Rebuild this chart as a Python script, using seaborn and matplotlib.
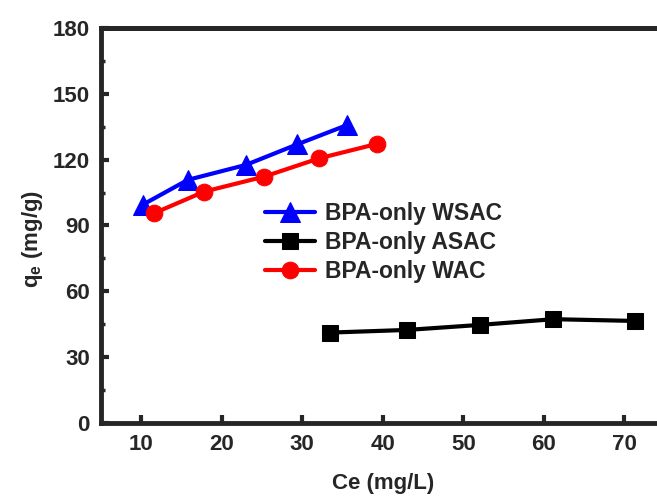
import pandas as pd
import matplotlib
matplotlib.use("Agg")
import matplotlib.pyplot as plt
import seaborn as sns
from matplotlib.ticker import MultipleLocator

# --- Data ---
ce_wsac = [10.2, 15.8, 23.0, 29.4, 35.6]
qe_wsac = [99.5, 110.8, 117.6, 127.0, 135.8]

ce_asac = [33.5, 43.0, 52.1, 61.2, 71.3]
qe_asac = [41.2, 42.4, 44.7, 47.3, 46.5]

ce_wac = [11.6, 17.8, 25.3, 32.1, 39.3]
qe_wac = [95.6, 105.4, 112.3, 120.6, 127.2]

labels = ["BPA-only WSAC", "BPA-only ASAC", "BPA-only WAC"]


def make_plot():
    sns.set_style("ticks")
    plt.rcParams["font.family"] = ["Liberation Sans", "DejaVu Sans"]
    plt.rcParams["font.weight"] = "bold"
    plt.rcParams["mathtext.fontset"] = "custom"
    plt.rcParams["mathtext.rm"] = "Liberation Sans:bold"
    plt.rcParams["mathtext.it"] = "Liberation Sans:bold"

    fig = plt.figure(figsize=(6.57, 4.96), dpi=100)
    # right spine sits just outside the picture, like the cropped original
    ax = fig.add_axes([0.1537, 0.1472, 0.8578, 0.7964])

    series = [
        (ce_wsac, qe_wsac, "#0000ff", "^", 14),
        (ce_asac, qe_asac, "#000000", "s", 11),
        (ce_wac, qe_wac, "#ff0000", "o", 12),
    ]
    for (x, y, col, mk, ms), lab in zip(series, labels):
        df = pd.DataFrame({"ce": x, "qe": y})
        sns.lineplot(data=df, x="ce", y="qe", ax=ax, color=col, marker=mk,
                     markersize=ms, markeredgecolor=col, linewidth=3,
                     label=lab, sort=False)

    ax.set_xlim(5, 75)
    ax.set_ylim(0, 180)
    ax.xaxis.set_major_locator(MultipleLocator(10))
    ax.yaxis.set_major_locator(MultipleLocator(30))
    ax.yaxis.set_minor_locator(MultipleLocator(15))

    for sp in ax.spines.values():
        sp.set_linewidth(3.5)
        sp.set_visible(True)

    ax.tick_params(axis="both", which="major", direction="in", length=6,
                   width=3, labelsize=16, pad=8)
    ax.tick_params(axis="y", which="minor", direction="in", length=3, width=2.5)
    # top axis: small inward ticks every 5, no labels
    ax.tick_params(axis="x", which="both", top=False)
    sec = ax.secondary_xaxis("top")
    sec.xaxis.set_major_locator(MultipleLocator(5))
    sec.tick_params(direction="in", length=2.5, width=1.5, labeltop=False)
    sec.spines["top"].set_linewidth(3.5)

    ax.set_xlabel("Ce (mg/L)", fontsize=16, fontweight="bold", labelpad=13)
    ax.set_ylabel(r"q$_\mathrm{e}$ (mg/g)", fontsize=16, fontweight="bold")
    ax.yaxis.set_label_coords(-0.10, 0.465)

    leg = ax.legend(loc="upper left", bbox_to_anchor=(0.291, 0.56),
                    frameon=False, fontsize=16.5, handlelength=2.2,
                    handletextpad=0.4, labelspacing=0.27, borderpad=0,
                    borderaxespad=0)
    for t in leg.get_texts():
        t.set_fontweight("bold")

    fig.savefig("out.png", dpi=100)


if __name__ == "__main__":
    make_plot()
